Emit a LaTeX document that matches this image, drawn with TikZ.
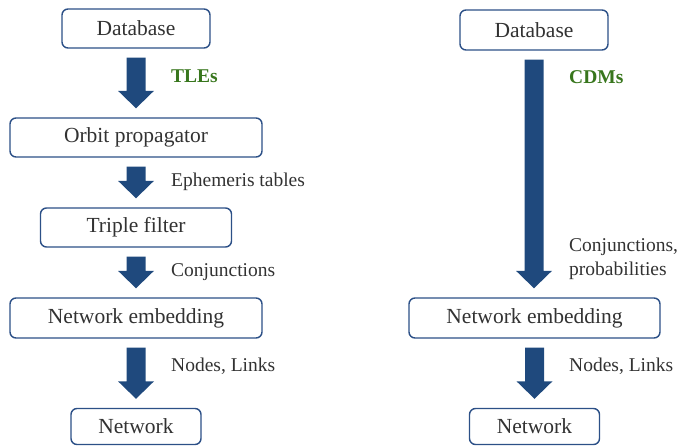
\documentclass[tikz,border=0pt]{standalone}
\usepackage{fontspec}
\setmainfont{Liberation Serif}
\usetikzlibrary{calc}
\definecolor{arrblue}{RGB}{31,73,125}
\definecolor{boxblue}{RGB}{44,80,135}
\definecolor{txtcol}{RGB}{50,50,50}
\definecolor{lblgreen}{RGB}{56,118,29}
\tikzset{
  stepbox/.style={draw=boxblue, line width=1.4pt, rounded corners=6pt, fill=white,
    inner sep=0pt, text=txtcol, font=\fontsize{21.5}{25}\selectfont},
  lbl/.style={anchor=west, inner sep=0pt, text=txtcol, align=left,
    font=\fontsize{19.5}{23.4}\selectfont},
  glbl/.style={anchor=west, inner sep=0pt, text=lblgreen,
    font=\fontsize{19.5}{23.4}\selectfont\bfseries},
}
% block arrow from node #1 to node #2, shaft centred at x of #1
\newcommand\blockarrow[2]{%
  \fill[arrblue] let \p1=(#1.south), \p2=(#2.north) in
    (\x1-9.5pt,\y1-9pt) -- (\x1+9.5pt,\y1-9pt) -- (\x1+9.5pt,\y2+26.5pt)
    -- (\x1+18pt,\y2+26.5pt) -- (\x1,\y2+9pt) -- (\x1-18pt,\y2+26.5pt)
    -- (\x1-9.5pt,\y2+26.5pt) -- cycle;}
\begin{document}
\begin{tikzpicture}[x=1pt,y=-1pt]
\useasboundingbox (0,0) rectangle (682,446);
% left column
\node[stepbox, minimum width=148pt, minimum height=39pt] (db1) at (136,28.5) {Database};
\node[stepbox, minimum width=252pt, minimum height=39pt] (orb) at (136,137.5) {Orbit propagator};
\node[stepbox, minimum width=191pt, minimum height=39pt] (tri) at (136,227.5) {Triple filter};
\node[stepbox, minimum width=252pt, minimum height=40pt] (ne1) at (136,318) {Network embedding};
\node[stepbox, minimum width=130pt, minimum height=36pt] (net1) at (136,426.5) {Network};
\blockarrow{db1}{orb}
\blockarrow{orb}{tri}
\blockarrow{tri}{ne1}
\blockarrow{ne1}{net1}
\node[glbl] (l1) at (171,76) {TLEs};
\node[lbl] (l2) at (171,181.5) {Ephemeris tables};
\node[lbl] (l3) at (171,272) {Conjunctions};
\node[lbl] (l4) at (171,366) {Nodes, Links};
% right column
\node[stepbox, minimum width=148pt, minimum height=40pt] (db2) at (534,30) {Database};
\node[stepbox, minimum width=251pt, minimum height=40pt] (ne2) at (534.5,318) {Network embedding};
\node[stepbox, minimum width=130pt, minimum height=36pt] (net2) at (534.5,426.5) {Network};
\blockarrow{db2}{ne2}
\blockarrow{ne2}{net2}
\node[glbl] (r1) at (569,77) {CDMs};
\node[lbl] (r2) at (569,259) {Conjunctions,\\probabilities};
\node[lbl] (r3) at (569,366) {Nodes, Links};
\end{tikzpicture}
\end{document}
